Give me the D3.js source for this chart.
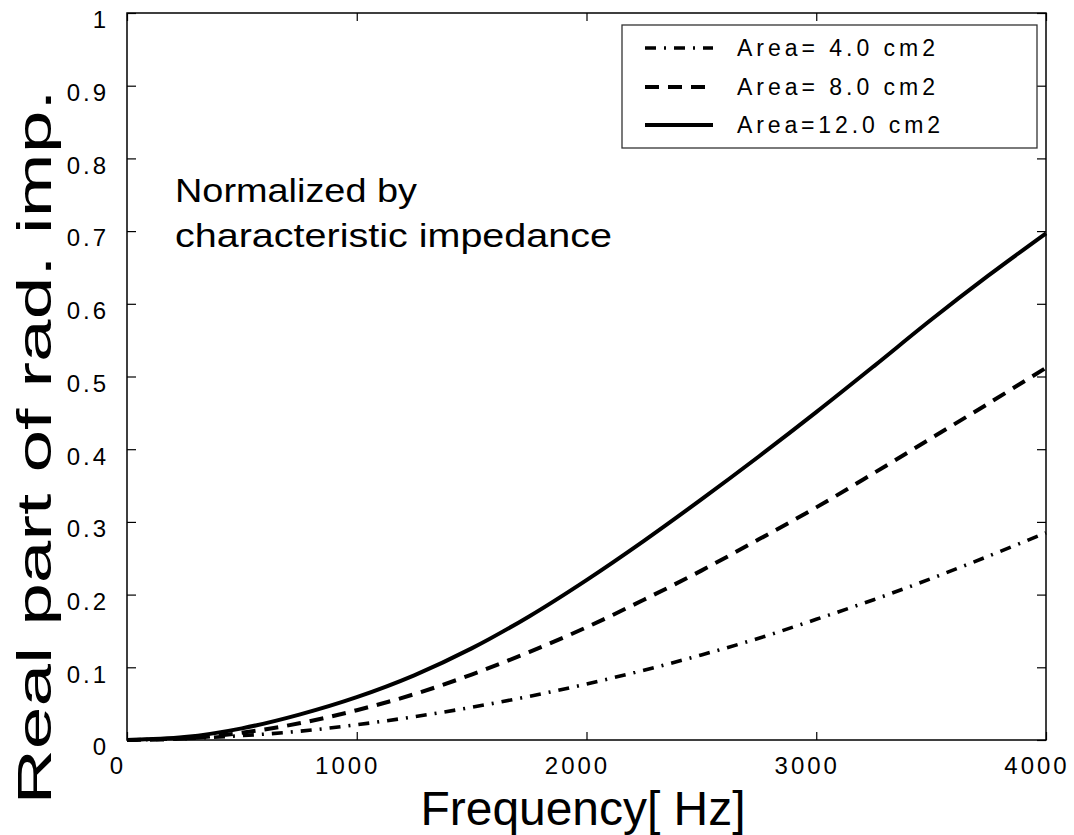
<!DOCTYPE html>
<html><head><meta charset="utf-8">
<script src="https://cdn.jsdelivr.net/npm/d3@7"></script>
<style>
body{margin:0;background:#fff;}
text{font-family:"Liberation Sans",Arial,sans-serif;fill:#000;}
</style></head>
<body><svg id="chart" width="1074" height="835"></svg>
<script>
const freqs = [0,250,500,750,1000,1250,1500,1750,2000,2250,2500,2750,3000,3250,3500,3750,4000];
const area4  = [0,0.002,0.006,0.012,0.021,0.032,0.045,0.060,0.077,0.096,0.117,0.140,0.166,0.193,0.222,0.253,0.285];
const area8  = [0,0.002,0.010,0.023,0.041,0.063,0.090,0.121,0.155,0.193,0.233,0.276,0.320,0.367,0.415,0.463,0.512];
const area12 = [0,0.004,0.016,0.035,0.059,0.089,0.126,0.170,0.220,0.274,0.331,0.390,0.451,0.514,0.578,0.639,0.697];
const seriesNames = ["Area= 4.0 cm2","Area= 8.0 cm2","Area=12.0 cm2"];
const xTicks = [0,1000,2000,3000,4000];
const yTicks = [0,0.1,0.2,0.3,0.4,0.5,0.6,0.7,0.8,0.9,1];
const xTitle = "Frequency[ Hz]";
const yTitle = "Real part of rad. imp.";
const note = ["Normalized by","characteristic impedance"];

const svg = d3.select("#chart");
const L=127,R=1046,T=13,B=740;
const x = d3.scaleLinear().domain([0,4000]).range([L,R]);
const y = d3.scaleLinear().domain([0,1]).range([B,T]);

// frame
svg.append("rect").attr("x",L).attr("y",T).attr("width",R-L).attr("height",B-T)
  .attr("fill","none").attr("stroke","#000").attr("stroke-width",1.5);

// axes (inward ticks)
const yAxL = d3.axisRight(y).tickValues(yTicks).tickSize(9).tickFormat("");
const yAxR = d3.axisLeft(y).tickValues(yTicks).tickSize(9).tickFormat("");
const xAxB = d3.axisTop(x).tickValues(xTicks).tickSize(8).tickFormat("");
const xAxT = d3.axisBottom(x).tickValues(xTicks).tickSize(8).tickFormat("");
[[yAxL,`translate(${L},0)`],[yAxR,`translate(${R},0)`],[xAxB,`translate(0,${B})`],[xAxT,`translate(0,${T})`]].forEach(([ax,tr])=>{
  const g=svg.append("g").attr("transform",tr).call(ax);
  g.select(".domain").remove();
  g.selectAll("line").attr("stroke","#000").attr("stroke-width",1.2);
});

// tick labels
const fmtY = d => d===0?"0":(d===1?"1":d.toFixed(1));
svg.append("g").selectAll("text").data(yTicks).join("text")
  .attr("x",109).attr("y",d=>y(d)+9).attr("text-anchor","end")
  .attr("font-size",24).attr("letter-spacing",3).attr("dominant-baseline","middle")
  .text(fmtY);
svg.append("g").selectAll("text").data(xTicks).join("text")
  .attr("x",d=>x(d)-9).attr("y",768).attr("text-anchor","middle")
  .attr("font-size",24).attr("letter-spacing",3).attr("dominant-baseline","middle")
  .text(d=>String(d));

// titles
svg.append("text").attr("x",583).attr("y",825).attr("text-anchor","middle")
  .attr("font-size",48).attr("textLength",325).attr("lengthAdjust","spacingAndGlyphs")
  .text(xTitle);
svg.append("text").attr("transform","translate(51,447) rotate(-90)").attr("text-anchor","middle")
  .attr("font-size",48).attr("textLength",715).attr("lengthAdjust","spacingAndGlyphs")
  .text(yTitle);

// note
svg.append("text").attr("x",175).attr("y",202).attr("font-size",34)
  .attr("textLength",242).attr("lengthAdjust","spacingAndGlyphs").text(note[0]);
svg.append("text").attr("x",175).attr("y",247).attr("font-size",34)
  .attr("textLength",437).attr("lengthAdjust","spacingAndGlyphs").text(note[1]);

// curves
const dashes = ["11,8,2,8","14,9",null];
const widths = [3.6,4,4];
const data = [area4,area8,area12];
const line = d3.line().x((d,i)=>x(freqs[i])).y(d=>y(d)).curve(d3.curveCatmullRom);
data.forEach((s,k)=>{
  svg.append("path").datum(s).attr("d",line).attr("fill","none").attr("stroke","#000")
    .attr("stroke-width",widths[k]).attr("stroke-dasharray",dashes[k]);
});

// legend
svg.append("rect").attr("x",622).attr("y",25).attr("width",415).attr("height",123)
  .attr("fill","#fff").attr("stroke","#333").attr("stroke-width",1.3);
const ly=[48,87,125];
seriesNames.forEach((n,k)=>{
  svg.append("line").attr("x1",645).attr("x2",713).attr("y1",ly[k]).attr("y2",ly[k])
    .attr("stroke","#000").attr("stroke-width",widths[k]).attr("stroke-dasharray",dashes[k]);
  svg.append("text").attr("x",737).attr("y",ly[k]+8).attr("font-size",23)
    .attr("textLength",k===2?203:198).attr("lengthAdjust","spacing").text(n);
});
</script></body></html>
